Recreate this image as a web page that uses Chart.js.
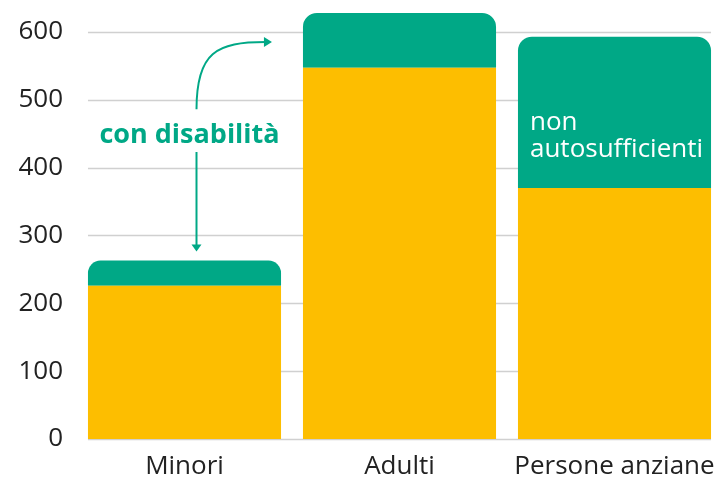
<!DOCTYPE html>
<html><head><meta charset="utf-8">
<script src="https://cdn.jsdelivr.net/npm/chart.js@4/dist/chart.umd.min.js"></script>
<style>html,body{margin:0;padding:0;background:#fff}#wrap{width:727px;height:478px}</style>
</head><body><div id="wrap"><canvas id="c" width="727" height="478"></canvas></div>
<script>
const categories = ["Minori", "Adulti", "Persone anziane"];
const baseValues = [226, 547, 370];
const topValues = [37, 81, 223];
const yTicks = [0, 100, 200, 300, 400, 500, 600];
const topLabelMinori = "con disabilità";
const topLabelAnziani = ["non", "autosufficienti"];

const GREEN = "#00A886";
const YELLOW = "#FDBE00";
const FONT = "'Open Sans', sans-serif";

const gridPlugin = {
  id: "grid",
  beforeDatasetsDraw(chart) {
    const ctx = chart.ctx, y = chart.scales.y;
    const meta = chart.getDatasetMeta(0);
    const first = meta.data[0], last = meta.data[meta.data.length - 1];
    const x0 = first.x - first.width / 2, x1 = last.x + last.width / 2;
    ctx.save();
    ctx.strokeStyle = "#d0d0d0";
    ctx.lineWidth = 1.5;
    yTicks.forEach(v => {
      const py = Math.round(y.getPixelForValue(v)) + 0.5;
      ctx.beginPath(); ctx.moveTo(x0, py); ctx.lineTo(x1, py); ctx.stroke();
    });
    ctx.restore();
  }
};

const notePlugin = {
  id: "notes",
  afterDatasetsDraw(chart) {
    const ctx = chart.ctx, y = chart.scales.y;
    const m0 = chart.getDatasetMeta(1).data[0];
    const m1 = chart.getDatasetMeta(1).data[1];
    const m2 = chart.getDatasetMeta(1).data[2];
    ctx.save();
    const ax = m0.x + 12;
    ctx.fillStyle = GREEN;
    ctx.strokeStyle = GREEN;
    ctx.lineWidth = 2;
    ctx.font = "bold 27px " + FONT;
    ctx.textAlign = "center";
    ctx.textBaseline = "alphabetic";
    ctx.fillText(topLabelMinori, m0.x + 5, y.getPixelForValue(436));
    // down arrow
    const dTop = y.getPixelForValue(423), dBot = m0.y - 9;
    ctx.beginPath(); ctx.moveTo(ax, dTop); ctx.lineTo(ax, dBot - 4); ctx.stroke();
    ctx.beginPath(); ctx.moveTo(ax - 5, dBot - 7); ctx.lineTo(ax + 5, dBot - 7); ctx.lineTo(ax, dBot); ctx.closePath(); ctx.fill();
    // curved arrow
    const sY = y.getPixelForValue(486);
    const eY = y.getPixelForValue(585);
    const eX = m1.x - m1.width / 2 - 31;
    ctx.beginPath(); ctx.moveTo(ax, sY);
    ctx.bezierCurveTo(ax, eY + 10, ax + 20, eY, eX - 6, eY);
    ctx.stroke();
    ctx.beginPath(); ctx.moveTo(eX - 8, eY - 5); ctx.lineTo(eX - 8, eY + 5); ctx.lineTo(eX, eY); ctx.closePath(); ctx.fill();
    // non autosufficienti
    ctx.fillStyle = "#ffffff";
    ctx.font = "26px " + FONT;
    ctx.textAlign = "left";
    ctx.textBaseline = "alphabetic";
    const lx = m2.x - m2.width / 2 + 12;
    ctx.fillText(topLabelAnziani[0], lx, y.getPixelForValue(455.5));
    ctx.fillText(topLabelAnziani[1], lx, y.getPixelForValue(415.7));
    ctx.restore();
  }
};

new Chart(document.getElementById("c"), {
  type: "bar",
  data: {
    labels: categories,
    datasets: [
      { data: baseValues, backgroundColor: YELLOW, borderRadius: 0, borderSkipped: false },
      { data: topValues, backgroundColor: GREEN, borderSkipped: false,
        borderRadius: { topLeft: 14, topRight: 14, bottomLeft: 0, bottomRight: 0 } }
    ]
  },
  options: {
    responsive: false,
    animation: false,
    devicePixelRatio: 1,
    layout: { padding: { left: 0, right: 5, top: 0, bottom: 0 } },
    plugins: { legend: { display: false }, tooltip: { enabled: false } },
    datasets: { bar: { categoryPercentage: 1, barPercentage: 0.898 } },
    scales: {
      x: {
        stacked: true,
        grid: { display: false, drawTicks: false },
        border: { display: false },
        ticks: { color: "#222", font: { family: FONT, size: 26 }, padding: 12,
                 maxRotation: 0, minRotation: 0, autoSkip: false },
        afterFit(s) { s.height = 39; s.paddingLeft = 0; s.paddingRight = 0; }
      },
      y: {
        stacked: true,
        min: 0, max: 647,
        grid: { display: false, drawTicks: false },
        border: { display: false },
        ticks: { color: "#222", font: { family: FONT, size: 26 }, padding: 14 },
        afterBuildTicks(s) { s.ticks = yTicks.map(v => ({ value: v })); },
        afterFit(s) { s.width = 77; s.paddingTop = 0; s.paddingBottom = 0; }
      }
    }
  },
  plugins: [gridPlugin, notePlugin]
});
</script></body></html>
